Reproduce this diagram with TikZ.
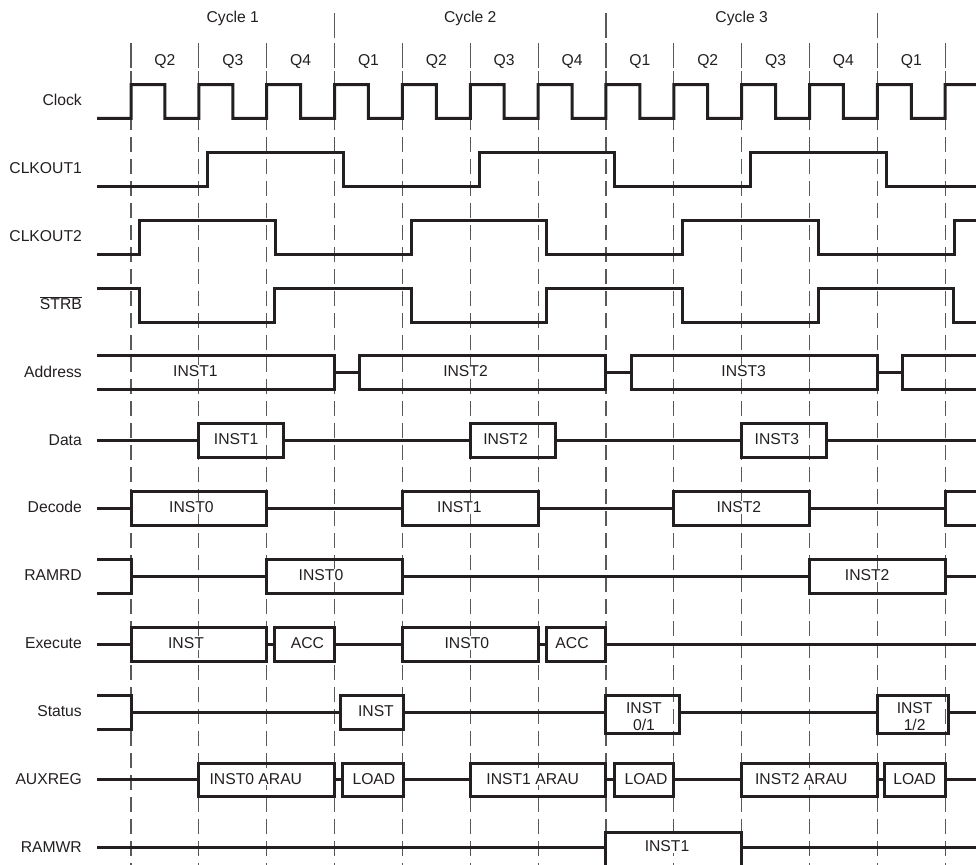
\documentclass[tikz,border=0pt]{standalone}
\usepackage{fontspec}
\setmainfont{Liberation Sans}
\usepackage{tikz}
\definecolor{ink}{HTML}{231F20}
\definecolor{rule}{HTML}{58595B}

\begin{document}
\begin{tikzpicture}[x=67.85pt, y=67.85pt]
			\tikzstyle{every node} = [font=\fontsize{15.7}{16.5}\selectfont, text=ink, inner sep=0pt]
			\tikzstyle{Sig}		= [draw=ink, line width=3pt, line join=miter]
			\tikzstyle{Grid}	= [draw=rule, line width=1.2pt, dash pattern=on 15pt off 7pt]
			\tikzstyle{Tick}	= [draw=rule, line width=1.2pt]
			\tikzstyle{Name}	= [anchor=base east]
			\tikzstyle{Val}		= [anchor=base, fill=white, inner sep=1pt]
			\tikzstyle{Head}	= [anchor=base]

			\useasboundingbox (-1.931,1.496) rectangle (12.454,-11.253);

			% quarter grid
			\draw [Grid] (0,0.45) -- (0,-11.3) (1,0.45) -- (1,-11.3) (2,0.45) -- (2,-11.3)
				(3,0.45) -- (3,-11.3) (4,0.45) -- (4,-11.3) (5,0.45) -- (5,-11.3)
				(6,0.45) -- (6,-11.3) (7,0.45) -- (7,-11.3) (8,0.45) -- (8,-11.3)
				(9,0.45) -- (9,-11.3) (10,0.45) -- (10,-11.3) (11,0.45) -- (11,-11.3)
				(12,0.45) -- (12,-11.3);
			\draw [Tick] (0,0.862) -- (0,0.494) (1,0.862) -- (1,0.494) (2,0.862) -- (2,0.494)
				(3,0.862) -- (3,0.494) (4,0.862) -- (4,0.494) (5,0.862) -- (5,0.494)
				(6,0.862) -- (6,0.494) (7,0.862) -- (7,0.494) (8,0.862) -- (8,0.494)
				(9,0.862) -- (9,0.494) (10,0.862) -- (10,0.494) (11,0.862) -- (11,0.494)
				(12,0.862) -- (12,0.494);
			\draw [Tick] (3,1.304) -- (3,0.936) (7,1.304) -- (7,0.936) (11,1.304) -- (11,0.936);

			\node (cy1) at (1.5,1.161) [Head] {Cycle 1};
			\node (cy2) at (5,1.161) [Head] {Cycle 2};
			\node (cy3) at (9,1.161) [Head] {Cycle 3};

			\node (q0) at (0.5,0.528) [Head] {Q2};
			\node (q1) at (1.5,0.528) [Head] {Q3};
			\node (q2) at (2.5,0.528) [Head] {Q4};
			\node (q3) at (3.5,0.528) [Head] {Q1};
			\node (q4) at (4.5,0.528) [Head] {Q2};
			\node (q5) at (5.5,0.528) [Head] {Q3};
			\node (q6) at (6.5,0.528) [Head] {Q4};
			\node (q7) at (7.5,0.528) [Head] {Q1};
			\node (q8) at (8.5,0.528) [Head] {Q2};
			\node (q9) at (9.5,0.528) [Head] {Q3};
			\node (q10) at (10.5,0.528) [Head] {Q4};
			\node (q11) at (11.5,0.528) [Head] {Q1};

			% signal names
			\node (clk) at (-0.722,-0.063) [Name] {Clock};
			\node (co1) at (-0.722,-1.063) [Name] {CLKOUT1};
			\node (co2) at (-0.722,-2.063) [Name] {CLKOUT2};
			\node (stb) at (-0.722,-3.063) [Name] {$\overline{\mbox{STRB}}$};
			\node (adr) at (-0.722,-4.063) [Name] {Address};
			\node (dat) at (-0.722,-5.063) [Name] {Data};
			\node (dec) at (-0.722,-6.063) [Name] {Decode};
			\node (rrd) at (-0.722,-7.063) [Name] {RAMRD};
			\node (exe) at (-0.722,-8.063) [Name] {Execute};
			\node (sts) at (-0.722,-9.063) [Name] {Status};
			\node (aux) at (-0.722,-10.063) [Name] {AUXREG};
			\node (rwr) at (-0.722,-11.063) [Name] {RAMWR};

			% Clock
			\draw [Sig] (-0.5,-0.25) -- (0,-0.25)
				-- ++(0,0.5) -- ++(0.5,0) -- ++(0,-0.5) -- ++(0.5,0) -- ++(0,0.5) -- ++(0.5,0) -- ++(0,-0.5) -- ++(0.5,0)
				-- ++(0,0.5) -- ++(0.5,0) -- ++(0,-0.5) -- ++(0.5,0) -- ++(0,0.5) -- ++(0.5,0) -- ++(0,-0.5) -- ++(0.5,0)
				-- ++(0,0.5) -- ++(0.5,0) -- ++(0,-0.5) -- ++(0.5,0) -- ++(0,0.5) -- ++(0.5,0) -- ++(0,-0.5) -- ++(0.5,0)
				-- ++(0,0.5) -- ++(0.5,0) -- ++(0,-0.5) -- ++(0.5,0) -- ++(0,0.5) -- ++(0.5,0) -- ++(0,-0.5) -- ++(0.5,0)
				-- ++(0,0.5) -- ++(0.5,0) -- ++(0,-0.5) -- ++(0.5,0) -- ++(0,0.5) -- ++(0.5,0) -- ++(0,-0.5) -- ++(0.5,0)
				-- ++(0,0.5) -- ++(0.5,0) -- ++(0,-0.5) -- ++(0.5,0) -- ++(0,0.5) -- ++(0.5,0) -- ++(0,-0.5) -- ++(0.5,0)
				-- ++(0,0.5) -- (12.46,0.25);

			% CLKOUT1, CLKOUT2, STRB
			\draw [Sig] (-0.5,-1.25) -- (1.13,-1.25) -- (1.13,-0.75) -- (3.13,-0.75) -- (3.13,-1.25) -- (5.13,-1.25)
				-- (5.13,-0.75) -- (7.13,-0.75) -- (7.13,-1.25) -- (9.13,-1.25) -- (9.13,-0.75) -- (11.13,-0.75)
				-- (11.13,-1.25) -- (12.46,-1.25);
			\draw [Sig] (-0.5,-2.25) -- (0.13,-2.25) -- (0.13,-1.75) -- (2.13,-1.75) -- (2.13,-2.25) -- (4.13,-2.25)
				-- (4.13,-1.75) -- (6.13,-1.75) -- (6.13,-2.25) -- (8.13,-2.25) -- (8.13,-1.75) -- (10.13,-1.75)
				-- (10.13,-2.25) -- (12.13,-2.25) -- (12.13,-1.75) -- (12.46,-1.75);
			\draw [Sig] (-0.5,-2.75) -- (0.12,-2.75) -- (0.12,-3.25) -- (2.12,-3.25) -- (2.12,-2.75) -- (4.13,-2.75)
				-- (4.13,-3.25) -- (6.13,-3.25) -- (6.13,-2.75) -- (8.13,-2.75) -- (8.13,-3.25) -- (10.13,-3.25)
				-- (10.13,-2.75) -- (12.12,-2.75) -- (12.12,-3.25) -- (12.46,-3.25);

			% Address
			\draw [Sig] (-0.5,-3.75) -- (3,-3.75) -- (3,-4.25) -- (-0.5,-4.25);
			\draw [Sig] (3,-4) -- (3.37,-4);
			\draw [Sig] (3.37,-3.75) rectangle (7,-4.25);
			\draw [Sig] (7,-4) -- (7.37,-4);
			\draw [Sig] (7.37,-3.75) rectangle (11,-4.25);
			\draw [Sig] (11,-4) -- (11.37,-4);
			\draw [Sig] (12.46,-3.75) -- (11.37,-3.75) -- (11.37,-4.25) -- (12.46,-4.25);
			\node (a1) at (0.95,-4.06) [Val] {INST1};
			\node (a2) at (4.93,-4.06) [Val] {INST2};
			\node (a3) at (9.03,-4.06) [Val] {INST3};

			% Data
			\draw [Sig] (-0.5,-5) -- (1,-5);
			\draw [Sig] (1,-4.75) rectangle (2.25,-5.25);
			\draw [Sig] (2.25,-5) -- (5,-5);
			\draw [Sig] (5,-4.75) rectangle (6.25,-5.25);
			\draw [Sig] (6.25,-5) -- (9,-5);
			\draw [Sig] (9,-4.75) rectangle (10.25,-5.25);
			\draw [Sig] (10.25,-5) -- (12.46,-5);
			\node (d1) at (1.55,-5.06) [Val] {INST1};
			\node (d2) at (5.52,-5.06) [Val] {INST2};
			\node (d3) at (9.52,-5.06) [Val] {INST3};

			% Decode
			\draw [Sig] (-0.5,-6) -- (0,-6);
			\draw [Sig] (0,-5.75) rectangle (2,-6.25);
			\draw [Sig] (2,-6) -- (4,-6);
			\draw [Sig] (4,-5.75) rectangle (6,-6.25);
			\draw [Sig] (6,-6) -- (8,-6);
			\draw [Sig] (8,-5.75) rectangle (10,-6.25);
			\draw [Sig] (10,-6) -- (12,-6);
			\draw [Sig] (12.46,-5.75) -- (12,-5.75) -- (12,-6.25) -- (12.46,-6.25);
			\node (e0) at (0.89,-6.06) [Val] {INST0};
			\node (e1) at (4.84,-6.06) [Val] {INST1};
			\node (e2) at (8.96,-6.06) [Val] {INST2};

			% RAMRD
			\draw [Sig] (-0.5,-6.75) -- (0,-6.75) -- (0,-7.25) -- (-0.5,-7.25);
			\draw [Sig] (0,-7) -- (2,-7);
			\draw [Sig] (2,-6.75) rectangle (4,-7.25);
			\draw [Sig] (4,-7) -- (10,-7);
			\draw [Sig] (10,-6.75) rectangle (12,-7.25);
			\draw [Sig] (12,-7) -- (12.46,-7);
			\node (r0) at (2.80,-7.06) [Val] {INST0};
			\node (r2) at (10.85,-7.06) [Val] {INST2};

			% Execute
			\draw [Sig] (-0.5,-8) -- (0,-8);
			\draw [Sig] (0,-7.75) rectangle (2,-8.25);
			\draw [Sig] (2,-8) -- (2.12,-8);
			\draw [Sig] (2.12,-7.75) rectangle (3,-8.25);
			\draw [Sig] (3,-8) -- (4,-8);
			\draw [Sig] (4,-7.75) rectangle (6,-8.25);
			\draw [Sig] (6,-8) -- (6.12,-8);
			\draw [Sig] (6.12,-7.75) rectangle (7,-8.25);
			\draw [Sig] (7,-8) -- (12.46,-8);
			\node (x1) at (0.81,-8.06) [Val] {INST};
			\node (x2) at (2.60,-8.06) [Val] {ACC};
			\node (x3) at (4.95,-8.06) [Val] {INST0};
			\node (x4) at (6.50,-8.06) [Val] {ACC};

			% Status
			\draw [Sig] (-0.5,-8.75) -- (0,-8.75) -- (0,-9.25) -- (-0.5,-9.25);
			\draw [Sig] (0,-9) -- (3.09,-9);
			\draw [Sig] (3.09,-8.75) rectangle (4.01,-9.25);
			\draw [Sig] (4.01,-9) -- (7,-9);
			\draw [Sig] (7,-8.75) rectangle (8.08,-9.31);
			\draw [Sig] (8.08,-9) -- (11,-9);
			\draw [Sig] (11,-8.75) rectangle (12.05,-9.31);
			\draw [Sig] (12.05,-9) -- (12.46,-9);
			\node (s1) at (3.61,-9.06) [Val] {INST};
			\node (s2) at (7.56,-9.065) [align=center] {INST\\0/1};
			\node (s3) at (11.55,-9.065) [align=center] {INST\\1/2};

			% AUXREG
			\draw [Sig] (-0.5,-10) -- (1,-10);
			\draw [Sig] (1,-9.75) rectangle (3,-10.25);
			\draw [Sig] (3,-10) -- (3.12,-10);
			\draw [Sig] (3.12,-9.75) rectangle (4.01,-10.25);
			\draw [Sig] (4.01,-10) -- (5,-10);
			\draw [Sig] (5,-9.75) rectangle (7,-10.25);
			\draw [Sig] (7,-10) -- (7.12,-10);
			\draw [Sig] (7.12,-9.75) rectangle (8,-10.25);
			\draw [Sig] (8,-10) -- (9,-10);
			\draw [Sig] (9,-9.75) rectangle (11,-10.25);
			\draw [Sig] (11,-10) -- (11.11,-10);
			\draw [Sig] (11.11,-9.75) rectangle (12,-10.25);
			\draw [Sig] (12,-10) -- (12.46,-10);
			\node (u1) at (1.84,-10.06) [Val] {INST0 ARAU};
			\node (u2) at (3.58,-10.06) [Val] {LOAD};
			\node (u3) at (5.92,-10.06) [Val] {INST1 ARAU};
			\node (u4) at (7.59,-10.06) [Val] {LOAD};
			\node (u5) at (9.88,-10.06) [Val] {INST2 ARAU};
			\node (u6) at (11.55,-10.06) [Val] {LOAD};

			% RAMWR
			\draw [Sig] (-0.5,-11) -- (7,-11);
			\draw [Sig] (7,-11.3) -- (7,-10.77) -- (9,-10.77) -- (9,-11.3);
			\draw [Sig] (9,-11) -- (12.46,-11);
			\node (w1) at (7.90,-11.06) [Val] {INST1};
		\end{tikzpicture}
\end{document}
